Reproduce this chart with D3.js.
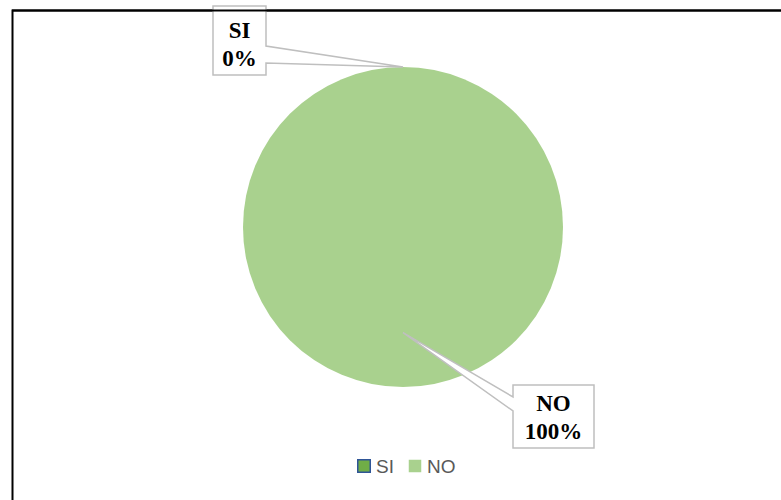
<!DOCTYPE html>
<html><head><meta charset="utf-8">
<script src="https://cdn.jsdelivr.net/npm/d3@7"></script>
<style>html,body{margin:0;padding:0;background:#fff;}svg{display:block;}</style>
</head><body>
<svg id="c" width="781" height="500"></svg>
<script>
const categories = ["SI", "NO"];
const values = [0, 100];
const percentLabels = ["0%", "100%"];
const colors = ["#70AD47", "#A9D18E"];

const svg = d3.select("#c");
const W = 781, H = 500;
svg.append("rect").attr("width", W).attr("height", H).attr("fill", "#fff");
svg.append("path").attr("d", `M12.5,${H} V10.5 H${W}`).attr("fill", "none").attr("stroke", "#000").attr("stroke-width", 2);

const cx = 403, cy = 227, r = 160;
const g = svg.append("g").attr("transform", `translate(${cx},${cy})`);
const pie = d3.pie().sort(null).value(d => d)(values);
const arc = d3.arc().innerRadius(0).outerRadius(r);
g.selectAll("path.s").data(pie).join("path").attr("class", "s")
  .attr("d", arc).attr("fill", (d, i) => colors[i]).attr("stroke", "none");

const boxes = [
  {x: 213, y: 6, w: 53, h: 69, tail: [46, 63], side: "right", anchorR: r},
  {x: 513, y: 385, w: 81, h: 63, tail: [397, 411], side: "left", anchorR: r * 0.66}
];
pie.forEach((d, i) => {
  const b = boxes[i];
  const ang = i === 0 ? d.startAngle : (d.startAngle + d.endAngle) / 2;
  const ax = cx + b.anchorR * Math.sin(ang), ay = cy - b.anchorR * Math.cos(ang);
  const sx = b.side === "right" ? b.x + b.w : b.x;
  const p = b.side === "right"
    ? `M${b.x},${b.y} H${b.x + b.w} V${b.tail[0]} L${ax},${ay} L${sx},${b.tail[1]} V${b.y + b.h} H${b.x} Z`
    : `M${b.x},${b.y} H${b.x + b.w} V${b.y + b.h} H${b.x} V${b.tail[1]} L${ax},${ay} L${sx},${b.tail[0]} Z`;
  svg.append("path").attr("d", p).attr("fill", "#fff").attr("stroke", "#BFBFBF").attr("stroke-width", 1.5);
  const t = svg.append("text").attr("text-anchor", "middle")
    .attr("font-family", "'Liberation Serif','Times New Roman',serif").attr("font-weight", "bold")
    .attr("font-size", 23).attr("fill", "#000");
  const tx = b.x + b.w / 2;
  const bottom = b.y + b.h;
  t.append("tspan").attr("x", tx).attr("y", bottom - 37).text(categories[i]);
  t.append("tspan").attr("x", tx).attr("y", bottom - 9).text(percentLabels[i]);
});
svg.append("line").attr("x1", 12).attr("x2", W).attr("y1", 10.5).attr("y2", 10.5).attr("stroke", "#000").attr("stroke-width", 2);

const legend = svg.append("g");
const lx = [357, 408];
categories.forEach((c, i) => {
  legend.append("rect").attr("x", lx[i] + 0.75).attr("y", 459.75).attr("width", 12.5).attr("height", 12.5)
    .attr("fill", colors[i]).attr("stroke", i === 0 ? "#2F5597" : "none").attr("stroke-width", 1.5);
  legend.append("text").attr("x", lx[i] + 19).attr("y", 473)
    .attr("font-family", "'Liberation Sans',Arial,sans-serif").attr("font-size", 19).attr("fill", "#595959").text(c);
});
</script>
</body></html>
